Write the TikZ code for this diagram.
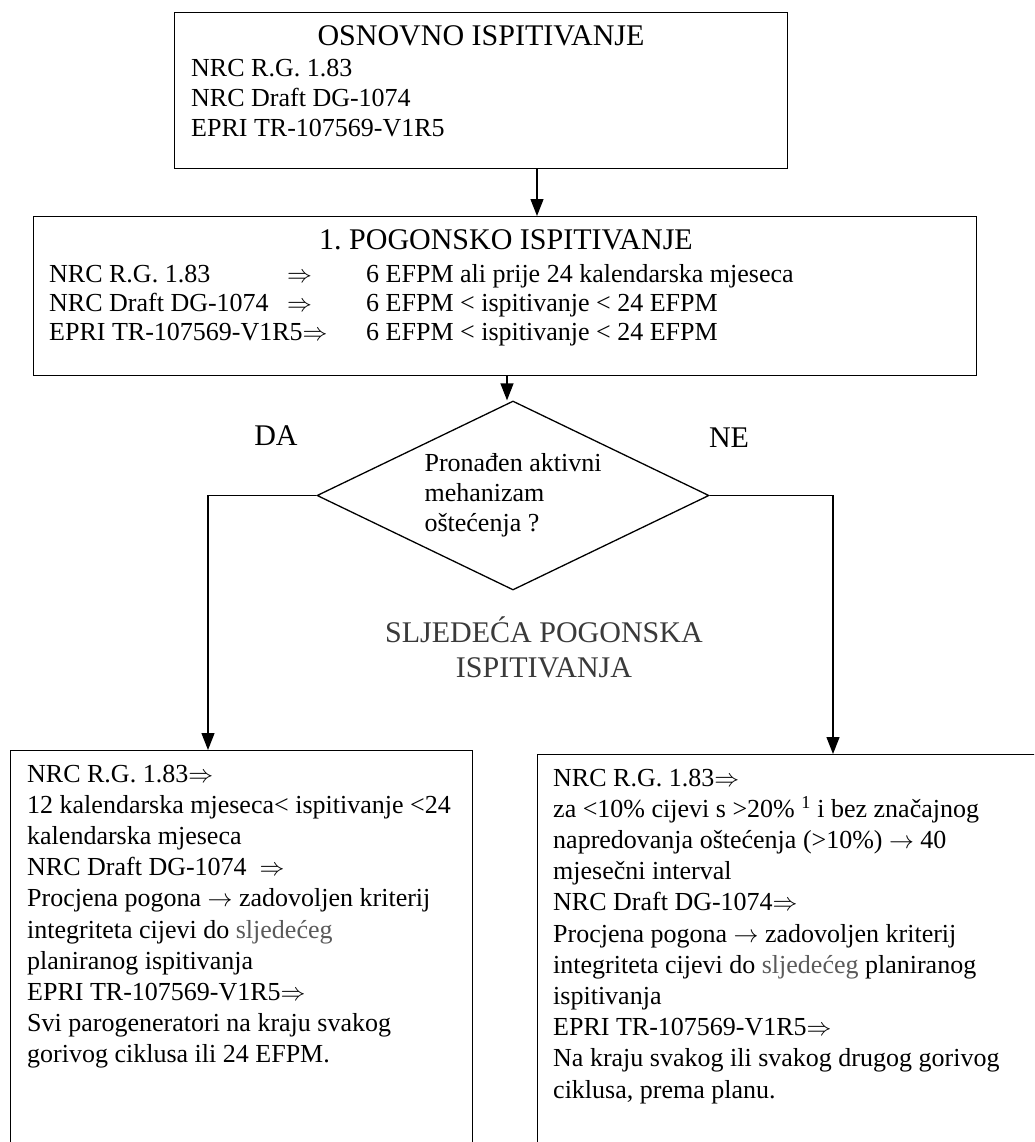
\documentclass[tikz,border=0pt]{standalone}
\usepackage{fontspec}
\setmainfont{Liberation Serif}
\usetikzlibrary{arrows.meta,shapes.geometric}
\definecolor{sgray}{HTML}{5A5A5A}
\definecolor{hgray}{HTML}{3A3A3A}
\frenchspacing
\begin{document}
\begin{tikzpicture}[x=1pt,y=-1pt,
  boxr/.style={draw, line width=1.4pt, inner sep=0pt, anchor=north west},
  arr/.style={line width=1.3pt, -{Triangle[length=17pt,width=13pt]}},
  ttl/.style={inner sep=0pt, anchor=base, font=\fontsize{30}{36}\selectfont},
  txt/.style={inner sep=0pt, anchor=base west, font=\fontsize{26}{31.2}\selectfont},
]
\useasboundingbox (0,0) rectangle (1034,1142);
\clip (0,0) rectangle (1034,1142);

% boxes
\node[boxr, minimum width=613pt, minimum height=156pt] (base) at (174,12) {};
\node[boxr, minimum width=943pt, minimum height=159pt] (pog) at (33,216) {};
\node[boxr, minimum width=462pt, minimum height=450pt] (lbox) at (10,750) {};
\node[boxr, minimum width=560pt, minimum height=450pt] (rbox) at (537,754) {};
\node[draw, diamond, shape aspect=2.074, line width=1.3pt, minimum width=392pt, minimum height=189pt,
      inner sep=0pt, align=left, font=\fontsize{26}{30}\selectfont] (dia) at (513,495.5)
      {Pronađen aktivni\\mehanizam\\oštećenja ?};

% connectors
\coordinate (a1) at (537,0);
\coordinate (a2) at (507,0);
\coordinate (cl) at (208,0);
\coordinate (cr) at (833,0);
\draw[arr] (base.south -| a1) -- (pog.north -| a1);
\draw[arr] (pog.south -| a2) -- (dia.north -| a2);
\draw[arr] (dia.west) -| (lbox.north -| cl);
\draw[arr] (dia.east) -| (rbox.north -| cr);

% top box text
\node[ttl] (t0) at (481,46) {OSNOVNO ISPITIVANJE};
\node[txt] (t1) at (191,77) {\parbox[t]{500pt}{\fontsize{26}{30}\selectfont NRC R.G. 1.83\\NRC Draft DG-1074\\EPRI TR-107569-V1R5}};

% second box text
\node[ttl] (p0) at (506,249) {1. POGONSKO ISPITIVANJE};
\node[txt] (p1) at (49,282) {\parbox[t]{300pt}{\fontsize{26}{29.4}\selectfont NRC R.G. 1.83\\NRC Draft DG-1074\\EPRI TR-107569-V1R5$\Rightarrow$}};
\node[txt] (p2) at (287,282) {\parbox[t]{40pt}{\fontsize{26}{29.4}\selectfont $\Rightarrow$\\$\Rightarrow$}};
\node[txt] (p3) at (366,282) {\parbox[t]{600pt}{\fontsize{26}{29.4}\selectfont 6 EFPM ali prije 24 kalendarska mjeseca\\6 EFPM < ispitivanje < 24 EFPM\\6 EFPM < ispitivanje < 24 EFPM}};

% labels
\node[ttl] (da) at (276,445) {DA};
\node[ttl] (ne) at (729,447) {NE};
\node[ttl, text=hgray] (sl) at (544,642) {\parbox[t]{450pt}{\centering\fontsize{30}{35}\selectfont SLJEDEĆA POGONSKA\\ISPITIVANJA}};

% bottom left text
\node[txt] (l1) at (27,782) {\parbox[t]{440pt}{\fontsize{26}{31.2}\selectfont
NRC R.G. 1.83$\Rightarrow$\\
12 kalendarska mjeseca< ispitivanje <24\\
kalendarska mjeseca\\
NRC Draft DG-1074 \ $\Rightarrow$\\
Procjena pogona $\rightarrow$ zadovoljen kriterij\\
integriteta cijevi do \textcolor{sgray}{sljedećeg}\\
planiranog ispitivanja\\
EPRI TR-107569-V1R5$\Rightarrow$\\
Svi parogeneratori na kraju svakog\\
gorivog ciklusa ili 24 EFPM.}};

% bottom right text
\node[txt] (r1) at (553,786) {\parbox[t]{480pt}{\fontsize{26}{31.2}\selectfont
NRC R.G. 1.83$\Rightarrow$\\
za <10\% cijevi s >20\% \textsuperscript{1} i bez značajnog\\
napredovanja oštećenja (>10\%) $\rightarrow$ 40\\
mjesečni interval\\
NRC Draft DG-1074$\Rightarrow$\\
Procjena pogona $\rightarrow$ zadovoljen kriterij\\
integriteta cijevi do \textcolor{sgray}{sljedećeg} planiranog\\
ispitivanja\\
EPRI TR-107569-V1R5$\Rightarrow$\\
Na kraju svakog ili svakog drugog gorivog\\
ciklusa, prema planu.}};
\end{tikzpicture}
\end{document}
